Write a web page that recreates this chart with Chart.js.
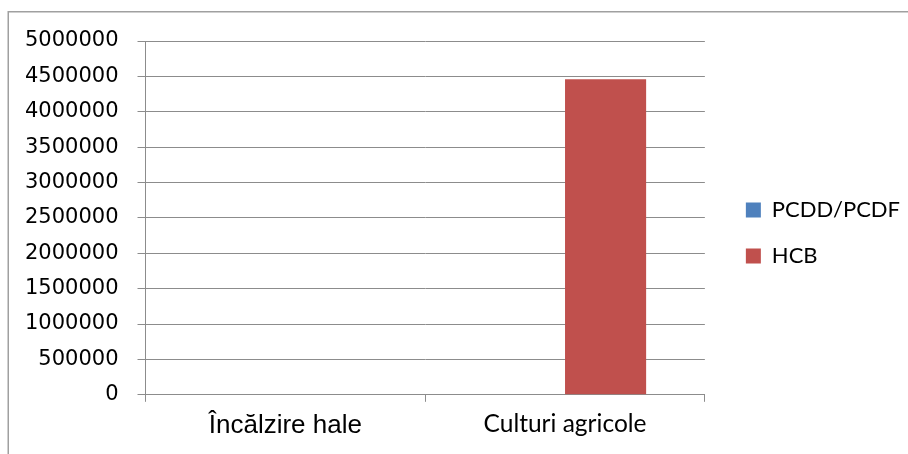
<!DOCTYPE html>
<html>
<head>
<meta charset="utf-8">
<script src="https://cdn.jsdelivr.net/npm/chart.js@4.4.0/dist/chart.umd.min.js"></script>
<style>
  html, body { margin: 0; padding: 0; background: #fff; }
  canvas { display: block; }
</style>
</head>
<body>
<canvas id="myChart" width="908" height="454"></canvas>
<script>
var categories = ["Încălzire hale", "Culturi agricole"];
var pcddValues = [0, 0];
var hcbValues = [0, 4460000];
var yTicks = [0, 500000, 1000000, 1500000, 2000000, 2500000, 3000000, 3500000, 4000000, 4500000, 5000000];

var gridColor = "#8c8c8c";

// outer frame of the chart object + legend nudge
var framePlugin = {
  id: "frame",
  afterLayout: function(chart) {
    var lg = chart.legend;
    lg.top -= 12; lg.bottom -= 12;
    lg.left += 17; lg.right += 17;
  },
  beforeDraw: function(chart) {
    var c = chart.ctx;
    c.save();
    c.strokeStyle = "#a0a0a0";
    c.lineWidth = 1.5;
    c.beginPath();
    c.moveTo(8.25, 454);
    c.lineTo(8.25, 11.75);
    c.lineTo(908, 11.75);
    c.stroke();
    c.restore();
  }
};

var ctx = document.getElementById("myChart").getContext("2d");
var myChart = new Chart(ctx, {
  type: "bar",
  data: {
    labels: categories,
    datasets: [
      { label: "PCDD/PCDF", data: pcddValues, backgroundColor: "#4f81bd" },
      { label: "HCB", data: hcbValues, backgroundColor: "#c0504d" }
    ]
  },
  options: {
    responsive: false,
    animation: false,
    devicePixelRatio: 1,
    layout: { padding: { left: 6, right: 15, top: 41, bottom: 5 } },
    datasets: { bar: { barPercentage: 1, categoryPercentage: 0.58 } },
    scales: {
      x: {
        grid: { display: true, drawOnChartArea: false, drawTicks: true, tickLength: 7, color: gridColor, offset: true },
        border: { color: gridColor, width: 1 },
        ticks: {
          color: "#000",
          padding: 8,
          font: function(c) {
            return c.index === 0 ? { family: "Liberation Sans", size: 26 } : { family: "Lato", size: 24.5 };
          }
        }
      },
      y: {
        min: 0,
        max: 5000000,
        afterBuildTicks: function(axis) {
          axis.ticks = yTicks.map(function(v) { return { value: v }; });
        },
        grid: { color: gridColor, tickLength: 8 },
        border: { color: gridColor, width: 1 },
        ticks: {
          color: "#000",
          padding: 19,
          font: { family: "DejaVu Sans", size: 21 },
          callback: function(v) { return String(v); }
        }
      }
    },
    plugins: {
      tooltip: { enabled: false },
      legend: {
        position: "right",
        labels: {
          color: "#000",
          boxWidth: 15,
          boxHeight: 15,
          padding: 24,
          font: { family: "Lato", size: 22 }
        }
      }
    }
  },
  plugins: [framePlugin]
});
</script>
</body>
</html>
